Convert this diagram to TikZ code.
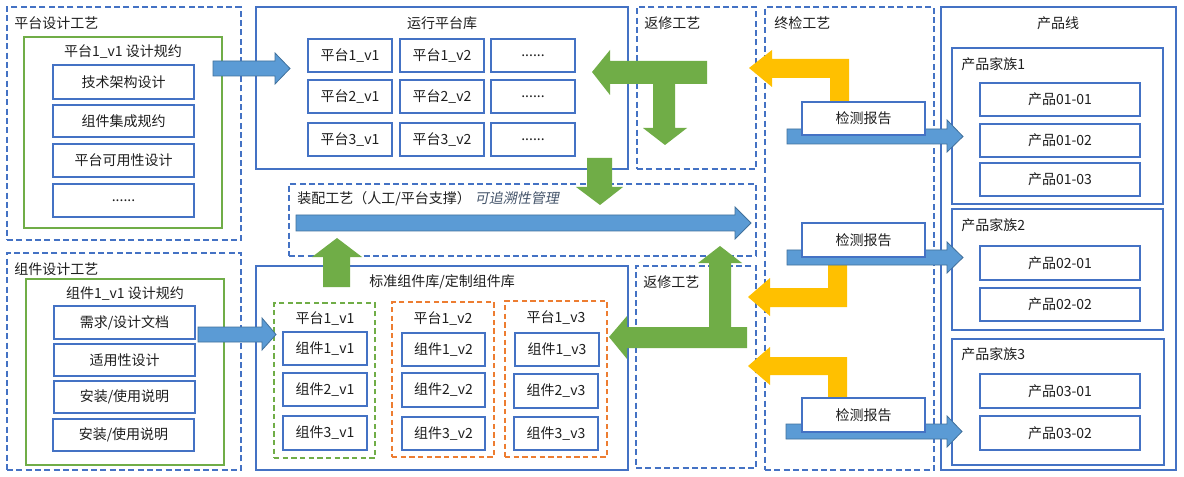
\documentclass[tikz,border=0pt]{standalone}
\usepackage{fontspec}
\setmainfont{Noto Sans CJK SC}
\newfontfamily\slcjk[FakeSlant=0.2]{Noto Sans CJK SC}
\definecolor{bl}{RGB}{68,114,196}
\definecolor{arrb}{RGB}{91,155,213}
\definecolor{arrbd}{RGB}{65,113,156}
\definecolor{gr}{RGB}{112,173,71}
\definecolor{orr}{RGB}{237,125,49}
\definecolor{yl}{RGB}{255,192,0}
\definecolor{itc}{RGB}{68,84,106}
\definecolor{txt}{RGB}{30,30,30}
\tikzset{
  every node/.style={font=\fontsize{10.5}{12}\selectfont, text=txt},
  frame/.style={draw=bl, line width=1pt, inner sep=0pt},
  dframe/.style={frame, dash pattern=on 4.5pt off 2.5pt},
  item/.style={draw=bl, line width=1pt, fill=white, inner sep=0pt},
  spec/.style={draw=gr, line width=1pt, inner sep=0pt},
  gdframe/.style={draw=gr, line width=1pt, inner sep=0pt, dash pattern=on 4pt off 2.5pt},
  odframe/.style={draw=orr, line width=1pt, inner sep=0pt, dash pattern=on 4pt off 2.5pt},
  ttl/.style={inner sep=0pt},
  barrow/.style={fill=arrb, draw=arrbd, line width=0.6pt},
  garrow/.style={fill=gr},
  yarrow/.style={fill=yl},
}
% \bx{style}{name}{x1}{y1}{x2}{y2}{text}
\newcommand\bx[7]{\node[#1, minimum width={(#5-#3)*0.75pt}, minimum height={(#6-#4)*0.75pt}] (#2) at ({(#3+#5)/2},{(#4+#6)/2}) {#7};}
\begin{document}
\begin{tikzpicture}[x=0.75pt,y=-0.75pt]
\fill[white] (0,0) rectangle (1184,477);
\useasboundingbox (0,0) rectangle (1184,477);

% ---------- platform design process
\bx{dframe}{pdp}{7}{7}{241}{240}{}
\node[ttl, anchor=west] (pdpT) at (14,23) {平台设计工艺};
\bx{spec}{spec1}{24}{37}{222}{228}{}
\node[ttl] (spec1T) at (123,52) {平台1\_v1 设计规约};
\bx{item}{t1}{53}{65}{194}{99}{技术架构设计}
\bx{item}{t2}{53}{105}{194}{137}{组件集成规约}
\bx{item}{t3}{53}{144}{194}{177}{平台可用性设计}
\bx{item}{t4}{53}{184}{194}{217}{......}

% ---------- run platform library
\bx{frame}{rpl}{256}{7}{628}{169}{}
\node[ttl] (rplT) at (442,23) {运行平台库};
\bx{item}{p11}{308}{39}{392}{72}{平台1\_v1}
\bx{item}{p12}{400}{39}{484}{72}{平台1\_v2}
\bx{item}{p13}{491}{39}{575}{72}{......}
\bx{item}{p21}{308}{80}{392}{113}{平台2\_v1}
\bx{item}{p22}{400}{80}{484}{113}{平台2\_v2}
\bx{item}{p23}{491}{80}{575}{113}{......}
\bx{item}{p31}{308}{123}{392}{156}{平台3\_v1}
\bx{item}{p32}{400}{123}{484}{156}{平台3\_v2}
\bx{item}{p33}{491}{123}{575}{156}{......}

% ---------- repair (top)
\bx{dframe}{rep1}{637}{7}{756}{169}{}
\node[ttl, anchor=west] (rep1T) at (644,23) {返修工艺};

% ---------- final inspection
\bx{dframe}{fin}{765}{7}{934}{470}{}
\node[ttl, anchor=west] (finT) at (774,23) {终检工艺};

% ---------- product line
\bx{frame}{pl}{941}{7}{1176}{470}{}
\node[ttl] (plT) at (1058,23) {产品线};
\bx{frame}{fam1}{952}{48}{1163}{204}{}
\node[ttl, anchor=west] (fam1T) at (961,64) {产品家族1};
\bx{item}{pr11}{980}{83}{1140}{116}{产品01-01}
\bx{item}{pr12}{980}{124}{1140}{157}{产品01-02}
\bx{item}{pr13}{980}{163}{1140}{196}{产品01-03}
\bx{frame}{fam2}{952}{209}{1163}{330}{}
\node[ttl, anchor=west] (fam2T) at (961,225) {产品家族2};
\bx{item}{pr21}{980}{246}{1140}{280}{产品02-01}
\bx{item}{pr22}{980}{288}{1140}{321}{产品02-02}
\bx{frame}{fam3}{952}{339}{1164}{465}{}
\node[ttl, anchor=west] (fam3T) at (961,354) {产品家族3};
\bx{item}{pr31}{980}{374}{1140}{408}{产品03-01}
\bx{item}{pr32}{980}{416}{1140}{450}{产品03-02}

% ---------- assembly
\bx{dframe}{asm}{289}{184}{756}{256}{}
\node[ttl, anchor=west] (asmT) at (297,199) {装配工艺（人工/平台支撑）\hspace{3pt}{\slcjk\color{itc}可追溯性管理}};

% ---------- component design process
\bx{dframe}{cdp}{7}{253}{241}{470}{}
\node[ttl, anchor=west] (cdpT) at (14,269) {组件设计工艺};
\bx{spec}{spec2}{26}{279}{224}{465}{}
\node[ttl] (spec2T) at (125,294) {组件1\_v1 设计规约};
\bx{item}{c1}{54}{306}{195}{339}{需求/设计文档}
\bx{item}{c2}{54}{344}{195}{376}{适用性设计}
\bx{item}{c3}{54}{381}{195}{413}{安装/使用说明}
\bx{item}{c4}{53}{419}{194}{451}{安装/使用说明}

% ---------- component library
\bx{frame}{cl}{256}{266}{628}{470}{}
\node[ttl] (clT) at (442,282) {标准组件库/定制组件库};
\bx{gdframe}{g1}{274}{303}{375}{458}{}
\node[ttl] (g1T) at (325,319) {平台1\_v1};
\bx{item}{k11}{283}{332}{367}{365}{组件1\_v1}
\bx{item}{k21}{283}{373}{367}{406}{组件2\_v1}
\bx{item}{k31}{283}{416}{367}{450}{组件3\_v1}
\bx{odframe}{g2}{392}{302}{494}{457}{}
\node[ttl] (g2T) at (443,319) {平台1\_v2};
\bx{item}{k12}{402}{333}{485}{366}{组件1\_v2}
\bx{item}{k22}{402}{373}{485}{407}{组件2\_v2}
\bx{item}{k32}{402}{417}{485}{450}{组件3\_v2}
\bx{odframe}{g3}{505}{301}{607}{457}{}
\node[ttl] (g3T) at (556,318) {平台1\_v3};
\bx{item}{k13}{515}{333}{599}{366}{组件1\_v3}
\bx{item}{k23}{514}{374}{598}{408}{组件2\_v3}
\bx{item}{k33}{514}{417}{598}{450}{组件3\_v3}

% ---------- repair (bottom)
\bx{dframe}{rep2}{636}{266}{756}{468}{}
\node[ttl, anchor=west] (rep2T) at (643,282) {返修工艺};

% ---------- block arrows
% design -> platform library
\draw[barrow] (213,61) -- (275,61) -- (275,53) -- (290,68.5) -- (275,84) -- (275,76) -- (213,76) -- cycle;
% component design -> component library
\draw[barrow] (198,327) -- (262,327) -- (262,318) -- (276,334.5) -- (262,350) -- (262,342) -- (198,342) -- cycle;
% assembly line
\draw[barrow] (296,215) -- (735,215) -- (735,207) -- (751,223) -- (735,239) -- (735,231) -- (296,231) -- cycle;

% green: repair top (T shaped)
\fill[garrow] (592,72) -- (610,50) -- (610,61) -- (707,61) -- (707,84) -- (675,84) -- (675,128)
  -- (687,128) -- (665,145) -- (643,128) -- (653,128) -- (653,84) -- (610,84) -- (610,95) -- cycle;
% green: platform library -> assembly
\fill[garrow] (587,158) -- (612,158) -- (612,187) -- (623,187) -- (600,205) -- (576,187) -- (587,187) -- cycle;
% green: component library -> assembly
\fill[garrow] (323,287) -- (323,257) -- (312,257) -- (337,238) -- (362,257) -- (350,257) -- (350,287) -- cycle;
% green: repair bottom
\fill[garrow] (609,337) -- (627,316) -- (627,327) -- (709,327) -- (709,263) -- (698,263) -- (720,246)
  -- (742,263) -- (731,263) -- (731,327) -- (747,327) -- (747,348) -- (627,348) -- (627,359) -- cycle;

% yellow arrows (inspection -> repair)
\fill[yarrow] (749,68) -- (772,50) -- (772,59) -- (849,59) -- (849,104) -- (830,104) -- (830,78) -- (772,78) -- (772,87) -- cycle;
\fill[yarrow] (748,297) -- (770,278) -- (770,288) -- (828,288) -- (828,254) -- (847,254) -- (847,307) -- (770,307) -- (770,316) -- cycle;
\fill[yarrow] (748,366) -- (770,347) -- (770,357) -- (847,357) -- (847,402) -- (828,402) -- (828,375) -- (770,375) -- (770,385) -- cycle;

% blue arrows: report -> product families
\draw[barrow] (787,129) -- (947,129) -- (947,120) -- (963,136.5) -- (947,152) -- (947,144) -- (787,144) -- cycle;
\draw[barrow] (787,250) -- (947,250) -- (947,242) -- (963,257.5) -- (947,273) -- (947,265) -- (787,265) -- cycle;
\draw[barrow] (786,424) -- (947,424) -- (947,416) -- (962,431.5) -- (947,447) -- (947,439) -- (786,439) -- cycle;

% inspection reports
\bx{item}{r1}{802}{102}{925}{135}{检测报告}
\bx{item}{r2}{802}{223}{925}{257}{检测报告}
\bx{item}{r3}{802}{398}{925}{432}{检测报告}
\end{tikzpicture}
\end{document}
